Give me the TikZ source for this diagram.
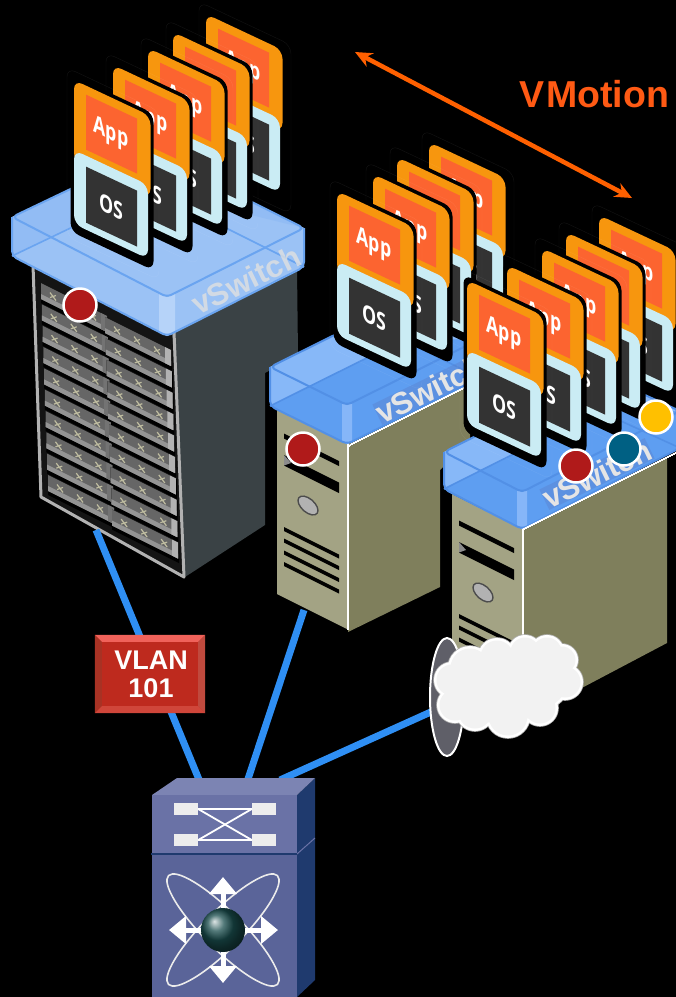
\documentclass[tikz,border=0pt]{standalone}
\usepackage{fontspec}
\setmainfont{Liberation Sans}
\newfontfamily\cardfont{Open Sans}
\usetikzlibrary{arrows.meta,calc,shapes.geometric}
\definecolor{cOrange}{HTML}{F7960E}
\definecolor{cRedOr}{HTML}{FC6430}
\definecolor{cPale}{HTML}{CAECF4}
\definecolor{cDark}{HTML}{333333}
\definecolor{cLink}{HTML}{2F8FF4}
\definecolor{cFrontT}{HTML}{A3A384}
\definecolor{cSideT}{HTML}{7F7F5C}
\definecolor{cRackS}{HTML}{3A4245}
\definecolor{cRed}{HTML}{B01A1A}
\definecolor{cTeal}{HTML}{006083}
\definecolor{cAmber}{HTML}{FFC000}
\definecolor{cVM}{HTML}{FF6000}
\definecolor{cVMt}{HTML}{FF5A14}
\definecolor{vswface}{HTML}{9BC2F5}\definecolor{vswlight}{HTML}{92BCF4}
\definecolor{vswedge}{HTML}{6AA4F0}\definecolor{vswstrip}{HTML}{B6D3F9}
\def\vswsw{8}
\tikzset{
  dot/.style={circle,draw=white,line width=2.5pt,minimum size=33pt,inner sep=0pt,fill=#1},
  cardtxt/.style={transform shape,text=white,inner sep=0pt,font=\cardfont\bfseries\fontsize{24}{24}\selectfont},
  linkln/.style={draw=cLink,line width=7pt},
  swtxt/.style={rotate=26,inner sep=0pt,text=#1,font=\bfseries\fontsize{31}{31}\selectfont},
  icoln/.style={draw=white,line width=1.8pt},
  icorect/.style={fill=white!93!black},
  hubarr/.style={draw=white,line width=5pt,-{Triangle[width=27pt,length=17pt]}},
}
% card: id, x, y
\newcommand{\vmcard}[3]{%
 \begin{scope}[cm={1,-0.47,0,1,(#2,#3)}]
  \draw[white,opacity=.07,line width=.4pt,rounded corners=9pt] (-7,-9) rectangle (85,160);
  \fill[black,rounded corners=9pt] (-3.5,-4) rectangle (79.5,153);
  \fill[cOrange,rounded corners=9pt] (0,0) rectangle (76.5,82);
  \fill[cRedOr] (12,9) rectangle (63,64);
  \fill[cPale,rounded corners=9pt] (0,70) rectangle (74,144);
  \fill[cDark] (12,81) rectangle (63,137);
  \node[cardtxt] (#1-app) at (37,37) {\scalebox{.74}[1]{App}};
  \node[cardtxt] (#1-os) at (37,109) {\scalebox{.74}[1]{OS}};
 \end{scope}}
% glass vSwitch box
\newcommand{\vsw}[9]{%
 \fill[vswface] (#1,#2) -- (#3,#4) -- (#5,#6) -- (#5,#6+#9) -- (#3,#4+#9) -- (#1,#2+#9) -- cycle;
 \fill[vswstrip] (#3-\vswsw,#4-\vswsw/2) -- (#3,#4) -- (#3+\vswsw,#4-\vswsw/2) -- (#3+\vswsw,#4+#9-\vswsw/2) -- (#3,#4+#9) -- (#3-\vswsw,#4+#9-\vswsw/2) -- cycle;
 \fill[vswface] (#1,#2) -- (#3,#4) -- (#5,#6) -- (#7,#8) -- cycle;
 \fill[vswlight] (#1,#2) -- (#7,#8) -- (#5,#6) -- (#7,#8+#9) -- (#1,#2+#9) -- cycle;
 \draw[vswedge,line width=1.6pt,line join=round] (#1,#2+#9) -- (#7,#8+#9) -- (#5,#6+#9);
 \draw[vswedge,line width=2pt,rounded corners=5pt,line join=round] (#5,#6) -- (#7,#8) -- (#1,#2) -- (#3,#4) -- cycle;
 \draw[vswedge,line width=2pt,rounded corners=5pt,line join=round] (#1,#2) -- (#1,#2+#9) -- (#3,#4+#9) -- (#5,#6+#9) -- (#5,#6);
}
% tower front: x, y
\newcommand{\towerfront}[2]{%
 \begin{scope}[cm={1,-0.5,0,1,(#1,#2)}]
  \fill[cFrontT] (0,0) rectangle (71,187);
  \fill[black] (7,23) rectangle (62,28);
  \fill[black] (7,44.5) rectangle (62,55);
  \fill[black!45!white] (7,44.5) -- (14,49) -- (7,55) -- cycle;
  \draw[black!70!white,fill=black!30!white,line width=1.4pt] (31,83) ellipse (10 and 8);
  \foreach \vv in {116.5,128,140,151.5} \fill[black] (7,\vv) rectangle (62,\vv+4);
  \draw[white,line width=1.6pt] (71,0) -- (71,187);
 \end{scope}}
% blade
\newcommand{\blade}[3]{%
 \begin{scope}[cm={1,-0.5,0,1,(#1,#2)}]
  \fill[black] (0,0) rectangle (67,20);
  \fill[black!60!white] (0,0) rectangle (66,16);
  \fill[black!42!white] (0,11) rectangle (66,16);
  \fill[#3] (60,0) rectangle (66,16);
  \foreach \uu in {12,32,52} \draw[yellow!35!black!45!white,line width=1.2pt] (\uu-3,5) -- (\uu+3,10) (\uu-3,10) -- (\uu+3,5);
 \end{scope}}
\begin{document}
\begin{tikzpicture}[x=1pt,y=-1pt]
\useasboundingbox (0,0) rectangle (676,997);
\clip (0,0) rectangle (676,997);
\fill[black] (0,0) rectangle (676,997);

% ===== rack =====
\fill[cRackS] (172,332) -- (297,268) -- (298,355) -- (265,373) -- (265,525) -- (185,577) -- cycle;
\fill[black!92!white] (32,265) -- (40,497) -- (184,577) -- (172,332) -- cycle;
\foreach \i in {0,...,9}{
  \blade{41+.78*\i}{283+21.33*\i}{black!55!white}
  \blade{105+.8*\i}{317+21.4*\i}{black!30!white}
}
\draw[black!30!white,line width=3pt,line join=round] (33,265) -- (41,497) -- (184,577) -- (174,332);

% ===== vSwitch 1 =====
\vsw{12}{217}{167}{297}{304}{228}{150}{151}{39}
\node[swtxt=black!12!white,opacity=.8] (sw1txt) at (246,280) {vSwitch};
\vmcard{a5}{206}{14}\vmcard{a4}{173}{32}\vmcard{a3}{148}{48}\vmcard{a2}{113}{65}\vmcard{a1}{74}{80}

% ===== tower 2 =====
\fill[cSideT] (348,443) -- (470,381) -- (470,440) -- (440,470) -- (440,587) -- (348,632) -- cycle;
\towerfront{277}{407}
\definecolor{vswface}{HTML}{5E9EF1}\definecolor{vswlight}{HTML}{87B8F8}
\definecolor{vswedge}{HTML}{5290E6}\definecolor{vswstrip}{HTML}{86B6F8}
\def\vswsw{5}
\vsw{270}{367}{347}{405}{480}{339}{403}{301}{39}
\fill[white,line width=0pt,draw=white] (347,446) -- (470,384) -- (470,385) -- (347,447) -- cycle;
\node[swtxt=black!10!white,fill=cyan!35!blue!70!white,fill opacity=.35,text opacity=1] (sw2txt) at (430,389) {vSwitch};
\vmcard{b4}{429}{142}\vmcard{b3}{397}{157}\vmcard{b2}{373}{174}\vmcard{b1}{337}{191}

% ===== tower 3 =====
\fill[cSideT] (523,530) -- (667,457) -- (667,643) -- (523,719) -- cycle;
\towerfront{452}{494}
\vsw{444}{452}{522}{492}{680}{411}{599}{374}{37}
\fill[white,draw=white,line width=0pt] (522,529) -- (676,452) -- (676,453) -- (522,530) -- cycle;
\node[swtxt=black!10!white,fill=cyan!35!blue!70!white,fill opacity=.35,text opacity=1] (sw3txt) at (597,474) {vSwitch};
\vmcard{c5}{599}{215}\vmcard{c4}{566}{232}\vmcard{c3}{542}{248}\vmcard{c2}{507}{265}\vmcard{c1}{467}{280}

% ===== VM dots =====
\node[dot=cRed] (d1) at (80,305) {};
\node[dot=cRed] (d2) at (303,449) {};
\node[dot=cRed] (d3) at (576,466) {};
\node[dot=cTeal] (d4) at (624,449) {};
\node[dot=cAmber] (d5) at (656,417) {};

% ===== VMotion =====
\coordinate (vma) at (355,52);
\coordinate (vmb) at (632,198);
\draw[cVM,line width=4.5pt,{Stealth[length=17pt,width=15pt]}-{Stealth[length=17pt,width=15pt]}] (vma) -- (vmb);
\node[inner sep=0pt,text=cVMt,font=\bfseries\fontsize{37.5}{38}\selectfont] (vmtxt) at (594,94) {V\kern2pt Motion};

% ===== links =====
\coordinate (rackfoot) at (96,530);
\coordinate (towerfoot) at (304,610);
\coordinate (nx1) at (200,782);
\coordinate (nx2) at (247,782);
\coordinate (nx3) at (280,780);
\coordinate (ellfoot) at (433,711);
\draw[linkln] (rackfoot) -- (nx1);
\draw[linkln] (towerfoot) -- (nx2);
\draw[linkln] (ellfoot) -- (nx3);

% ===== VLAN box =====
\definecolor{vlanmain}{HTML}{BE2A1E}\definecolor{vlantop}{HTML}{F0625A}\definecolor{vlanleft}{HTML}{A83224}\definecolor{vlanbot}{HTML}{D0463A}\definecolor{vlanright}{HTML}{C04A3E}
\node[minimum width=110pt,minimum height=78pt,inner sep=0pt,fill=vlanmain] (vlan) at (150,674) {};
\coordinate (vnw) at ([shift={(7,7)}]vlan.north west);
\coordinate (vne) at ([shift={(-7,7)}]vlan.north east);
\coordinate (vse) at ([shift={(-7,-7)}]vlan.south east);
\coordinate (vsw) at ([shift={(7,-7)}]vlan.south west);
\fill[vlantop] (vlan.north west) -- (vlan.north east) -- (vne) -- (vnw) -- cycle;
\fill[vlanleft] (vlan.north west) -- (vlan.south west) -- (vsw) -- (vnw) -- cycle;
\fill[vlanright] (vlan.north east) -- (vlan.south east) -- (vse) -- (vne) -- cycle;
\fill[vlanbot] (vlan.south west) -- (vlan.south east) -- (vse) -- (vsw) -- cycle;
\node[inner sep=0pt,align=center,text=white,font=\bfseries\fontsize{27}{28}\selectfont] (vlantxt) at (151,674) {VLAN\\101};

% ===== Nexus switch =====
\definecolor{nxTop}{HTML}{7C84B3}\definecolor{nxUp}{HTML}{6A72A6}\definecolor{nxLo}{HTML}{5A6499}\definecolor{nxSide}{HTML}{1F3A6E}
\fill[nxSide] (297,795) -- (315,778) -- (315,980) -- (297,997) -- cycle;
\draw[nxUp,line width=1pt] (297,854) -- (315,838);
\fill[nxTop] (152,795) -- (177,778) -- (315,778) -- (297,795) -- cycle;
\fill[nxUp] (152,795) rectangle (297,854);
\fill[nxLo] (152,854) rectangle (297,997);
\draw[nxSide,line width=1.2pt] (151,854) -- (297,854);
\node[icorect,minimum width=24pt,minimum height=12pt,inner sep=0pt] (r1) at (186,809) {};
\node[icorect,minimum width=24pt,minimum height=12pt,inner sep=0pt] (r2) at (264,809) {};
\node[icorect,minimum width=24pt,minimum height=12pt,inner sep=0pt] (r3) at (186,840) {};
\node[icorect,minimum width=24pt,minimum height=12pt,inner sep=0pt] (r4) at (264,840) {};
\draw[icoln] (r1.east) -- (r2.west);
\draw[icoln] (r3.east) -- (r4.west);
\draw[icoln] (r1.east) -- (r4.west);
\draw[icoln] (r3.east) -- (r2.west);
\draw[white!92!black,line width=1.6pt,rotate around={45:(223,930)}] (223,930) ellipse (77 and 19);
\draw[white!92!black,line width=1.6pt,rotate around={-45:(223,930)}] (223,930) ellipse (77 and 19);
\coordinate (hc) at (223,930);
\coordinate (tipn) at (223,877);
\coordinate (tips) at (223,983);
\coordinate (tipw) at (169,930);
\coordinate (tipe) at (278,930);
\draw[hubarr] (hc) -- (tipn);
\draw[hubarr] (hc) -- (tips);
\draw[hubarr] (hc) -- (tipw);
\draw[hubarr] (hc) -- (tipe);
\node[circle,minimum size=44pt,inner sep=0pt,shading=ball,ball color=teal!45!black!90!white] (hub) at (hc) {};

% ===== cloud and lens =====
\definecolor{lensgray}{HTML}{5F5F68}
\node[ellipse,draw=white,line width=2pt,fill=lensgray,minimum width=34pt,minimum height=118pt,inner sep=0pt] (lens) at (447,697) {};
\def\cloudbumps{452/680/18,455/705/18,475/712/19,508/716/22,540/708/18,565/682/18,562/660/16,547/652/17,525/652/17,497/657/19,470/668/22,508/685/36,540/680/30,470/690/26,490/695/30,530/695/26}
\foreach \px/\py/\pr in \cloudbumps \fill[black!30!white] (\px,\py) circle (\pr+.8);
\foreach \px/\py/\pr in \cloudbumps \fill[white] (\px,\py) circle (\pr);
\foreach \px/\py/\pr in \cloudbumps \fill[black!5!white] (\px,\py) circle (\pr-2.5);
\end{tikzpicture}
\end{document}
